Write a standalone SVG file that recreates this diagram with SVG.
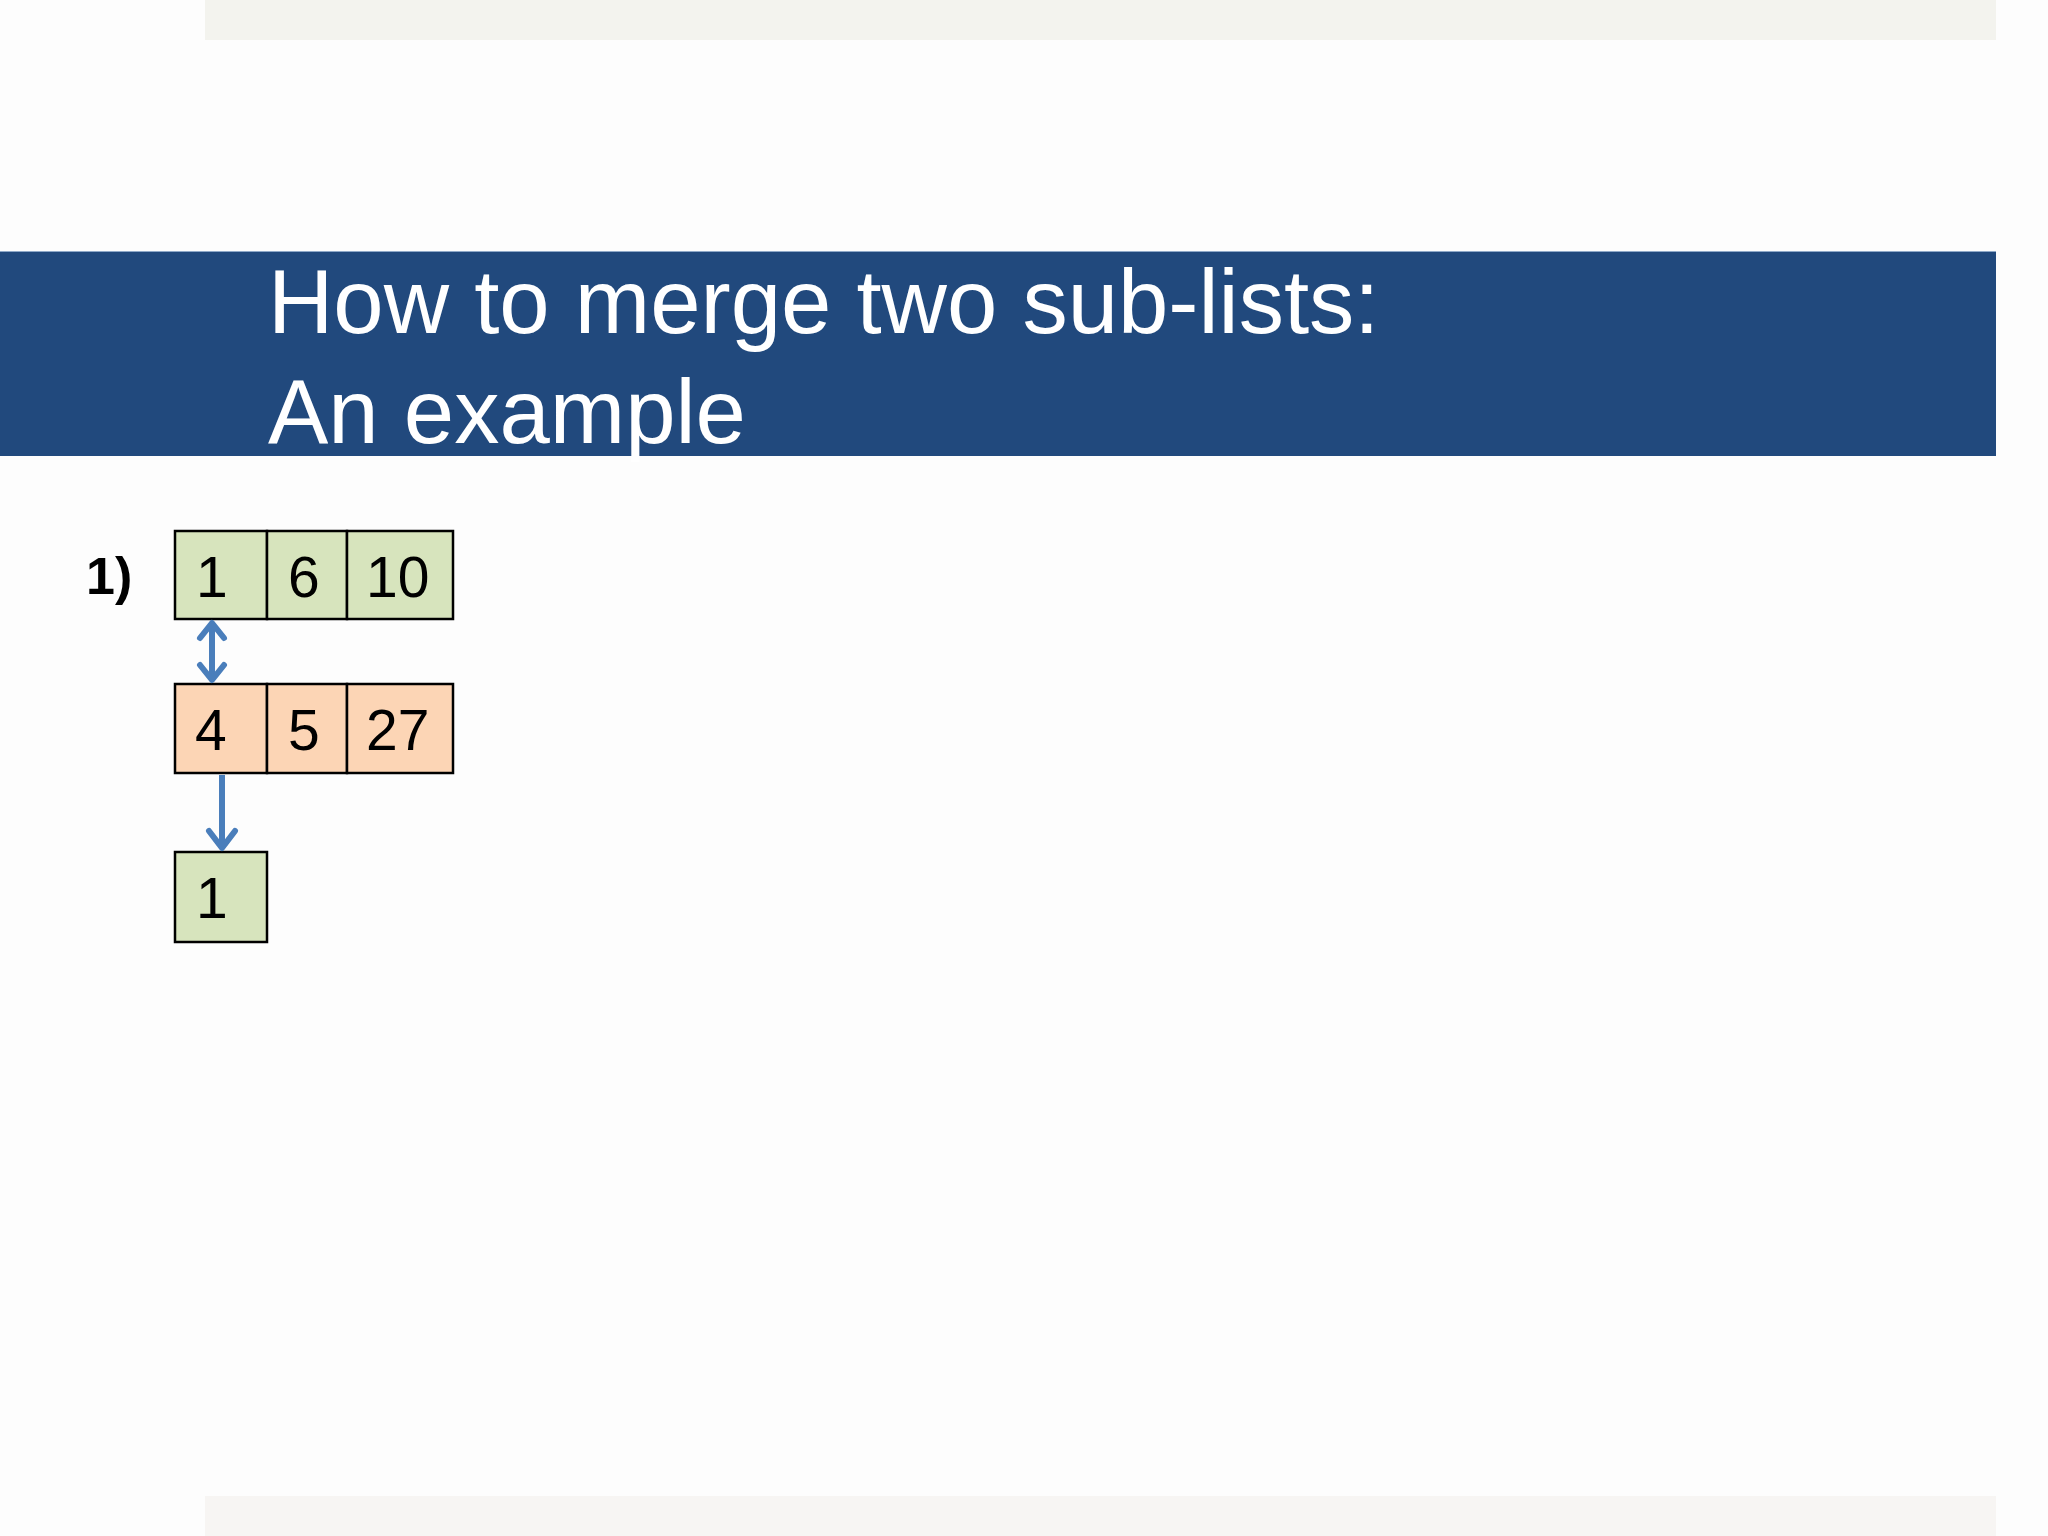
<svg xmlns="http://www.w3.org/2000/svg" width="2048" height="1536" viewBox="0 0 2048 1536">
<style>
.title{font-family:"Liberation Sans",Arial,sans-serif;font-size:90.5px;fill:#ffffff}
.num{font-family:"Liberation Sans",Arial,sans-serif;font-size:57px;fill:#000000}
.lbl{font-family:"Liberation Sans",Arial,sans-serif;font-size:52px;font-weight:bold;fill:#000000}
.g{fill:#D7E4BD;stroke:#000000;stroke-width:2.5}
.o{fill:#FCD5B5;stroke:#000000;stroke-width:2.5}
.arr{stroke:#4A7EBB;stroke-width:6;fill:none}
.head{stroke:#4A7EBB;stroke-width:6;fill:none;stroke-linecap:round;stroke-linejoin:round}
</style>
<rect width="2048" height="1536" fill="#FDFDFD"/>
<rect x="205" y="0" width="1791" height="40" fill="#F3F3EE"/>
<rect x="205" y="1496" width="1791" height="40" fill="#F7F5F3"/>
<rect x="0" y="251" width="1996" height="205" fill="#21497D"/>
<line x1="0" y1="251.5" x2="1996" y2="251.5" stroke="#8FA9C8" stroke-width="1"/>
<text class="title" x="268" y="333">How to merge two sub-lists:</text>
<text class="title" x="268" y="443">An example</text>
<text class="lbl" x="86" y="594">1)</text>
<g id="list1">
<rect class="g" x="175" y="531" width="92" height="88"/>
<rect class="g" x="267" y="531" width="80" height="88"/>
<rect class="g" x="347" y="531" width="106" height="88"/>
<text class="num" x="196" y="597">1</text>
<text class="num" x="288" y="597">6</text>
<text class="num" x="366" y="597">10</text>
</g>
<g id="list2">
<rect class="o" x="175" y="684" width="92" height="89"/>
<rect class="o" x="267" y="684" width="80" height="89"/>
<rect class="o" x="347" y="684" width="106" height="89"/>
<text class="num" x="195" y="750">4</text>
<text class="num" x="288" y="750">5</text>
<text class="num" x="366" y="750">27</text>
</g>
<g id="result">
<rect class="g" x="175" y="852" width="92" height="90"/>
<text class="num" x="196" y="918">1</text>
</g>
<g id="connectors">
<line class="arr" x1="212" y1="623" x2="212" y2="680"/>
<polyline class="head" points="200,638 212,623 224,638"/>
<polyline class="head" points="200,665 212,680 224,665"/>
<line class="arr" x1="222" y1="775" x2="222" y2="848"/>
<polyline class="head" points="209,831 222,848 235,831"/>
</g>
</svg>
